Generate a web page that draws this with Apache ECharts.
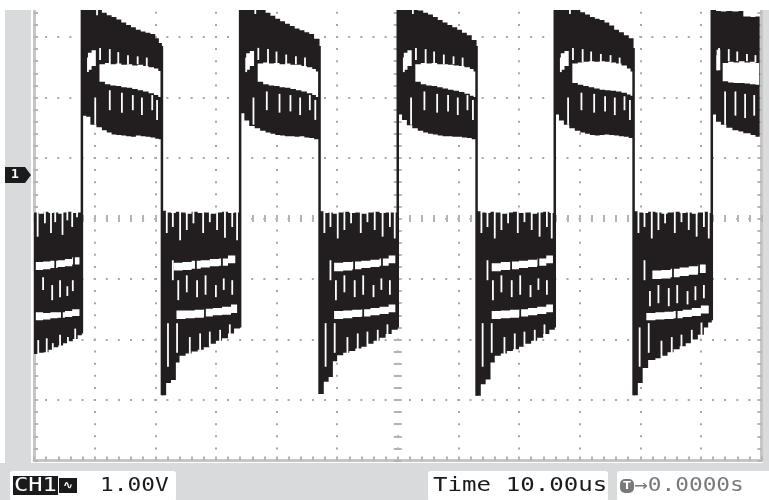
<!DOCTYPE html>
<html><head><meta charset="utf-8">
<script src="https://cdn.jsdelivr.net/npm/echarts@6/dist/echarts.min.js"></script>
<style>html,body{margin:0;padding:0;background:#fff}#c{width:769px;height:500px}</style>
</head><body><div id="c"></div>
<script>
// ---- status texts ----
const channelLabel = 'CH1';
const couplingIcon = '∿';
const voltsPerDiv = '1.00V';
const timeLabel = 'Time 10.00us';
const triggerIcon = 'T';
const triggerOffset = '→0.0000s';
const groundMarker = '1';

// ---- trace envelopes: [time us, top V, bottom V] (V relative to screen centre, 1 V/div) ----
const lowBlock0 = [[0.0,0.10,-2.24],[0.8,0.08,-2.22],[1.6,0.11,-2.21],[2.4,0.09,-2.17],[3.2,0.10,-2.13],[4.0,0.08,-2.10],[4.8,0.10,-2.06],[5.6,0.11,-2.03],[6.4,0.09,-1.99],[7.2,0.10,-1.93],[7.9,0.10,-1.88]];
const highBlock1 = [[7.9,3.6,1.70],[8.6,3.6,1.68],[9.3,3.6,1.55],[10.3,3.45,1.51],[11.2,3.40,1.46],[12.0,3.36,1.42],[12.8,3.33,1.39],[13.6,3.29,1.38],[14.4,3.24,1.37],[15.2,3.20,1.36],[16.0,3.16,1.35],[16.8,3.12,1.37],[17.6,3.09,1.36],[18.4,3.07,1.35],[19.2,3.05,1.34],[20.0,2.98,1.32],[20.6,2.90,1.31],[21.1,2.82,1.29]];
const lowBlock2 = [[21.1,0.13,-2.92],[21.8,0.10,-2.72],[22.6,0.09,-2.67],[23.4,0.11,-2.38],[24.0,0.10,-2.27],[25.0,0.08,-2.23],[26.0,0.11,-2.20],[27.0,0.09,-2.17],[28.0,0.10,-2.13],[29.0,0.08,-2.07],[30.0,0.10,-2.02],[31.0,0.11,-1.98],[32.0,0.09,-1.90],[33.0,0.10,-1.82],[34.0,0.10,-1.78]];
const highBlock3 = [[34.0,3.6,1.74],[34.7,3.6,1.62],[35.5,3.6,1.53],[36.4,3.55,1.49],[37.3,3.47,1.45],[38.2,3.40,1.42],[39.0,3.35,1.40],[39.8,3.30,1.38],[40.6,3.26,1.37],[41.4,3.22,1.36],[42.2,3.18,1.36],[43.0,3.14,1.35],[43.8,3.11,1.36],[44.6,3.08,1.34],[45.4,3.05,1.33],[46.2,2.97,1.31],[47.1,2.84,1.29]];
const lowBlock4 = [[47.1,0.12,-2.90],[47.8,0.09,-2.70],[48.6,0.10,-2.62],[49.3,0.08,-2.36],[50.0,0.10,-2.26],[51.0,0.11,-2.22],[52.0,0.09,-2.19],[53.0,0.10,-2.15],[54.0,0.08,-2.12],[55.0,0.10,-2.07],[56.0,0.11,-2.02],[57.0,0.09,-1.97],[58.0,0.10,-1.91],[59.0,0.10,-1.84],[60.0,0.09,-1.79]];
const highBlock5 = [[60.0,3.6,1.72],[60.7,3.6,1.63],[61.5,3.6,1.54],[62.4,3.5,1.49],[63.3,3.44,1.45],[64.2,3.40,1.42],[65.0,3.37,1.40],[65.8,3.33,1.39],[66.6,3.28,1.37],[67.4,3.24,1.36],[68.2,3.20,1.36],[69.0,3.16,1.35],[69.8,3.12,1.35],[70.6,3.07,1.34],[71.4,3.03,1.33],[72.2,2.95,1.31],[73.0,2.83,1.29]];
const lowBlock6 = [[73.0,0.12,-2.93],[73.7,0.10,-2.74],[74.5,0.09,-2.66],[75.3,0.11,-2.38],[76.0,0.10,-2.27],[77.0,0.08,-2.23],[78.0,0.10,-2.19],[79.0,0.11,-2.16],[80.0,0.09,-2.12],[81.0,0.10,-2.07],[82.0,0.08,-2.02],[83.0,0.10,-1.97],[84.0,0.11,-1.91],[85.0,0.09,-1.84],[85.9,0.10,-1.79]];
const highBlock7 = [[85.9,3.6,1.72],[86.6,3.6,1.62],[87.4,3.6,1.55],[88.3,3.52,1.49],[89.2,3.46,1.45],[90.1,3.41,1.42],[90.9,3.37,1.40],[91.7,3.33,1.38],[92.5,3.30,1.37],[93.3,3.28,1.38],[94.1,3.24,1.39],[94.9,3.19,1.38],[95.7,3.12,1.37],[96.5,3.08,1.36],[97.3,3.03,1.35],[98.1,2.98,1.33],[98.9,2.79,1.31]];
const lowBlock8 = [[98.9,0.12,-2.92],[99.6,0.10,-2.72],[100.4,0.09,-2.47],[101.3,0.11,-2.34],[102.5,0.10,-2.31],[103.5,0.08,-2.27],[104.5,0.10,-2.21],[105.5,0.11,-2.16],[106.5,0.09,-2.11],[107.5,0.10,-2.06],[108.5,0.08,-2.00],[109.5,0.10,-1.92],[110.5,0.11,-1.80],[111.2,0.09,-1.72],[111.8,0.10,-1.66]];
const highBlock9 = [[111.8,3.6,1.72],[112.5,3.43,1.60],[113.3,3.42,1.55],[114.2,3.43,1.50],[115.2,3.42,1.46],[116.2,3.43,1.44],[117.0,3.34,1.41],[118.2,3.33,1.38],[119.0,3.34,1.35],[119.7,3.33,1.34]];
const envelopes = [lowBlock0, highBlock1, lowBlock2, highBlock3, lowBlock4, highBlock5, lowBlock6, highBlock7, lowBlock8, highBlock9];

// ---- gaps (white bands) inside the persistence trace: [time us, top V, bottom V] ----
const gapLow0a = [[0.3,-0.72,-0.85],[1.5,-0.71,-0.84],[2.7,-0.70,-0.82],[3.9,-0.69,-0.80],[5.1,-0.67,-0.79],[6.3,-0.64,-0.76],[7.5,-0.60,-0.72]];
const gapLow0b = [[0.3,-1.55,-1.68],[1.5,-1.56,-1.67],[2.7,-1.55,-1.65],[3.9,-1.55,-1.64],[5.1,-1.53,-1.63],[6.3,-1.50,-1.61],[7.5,-1.44,-1.56]];
const gapHigh1a = [[8.9,2.74,2.46],[9.5,2.78,2.52],[10.2,2.72,2.50]];
const gapHigh1b = [[10.8,2.55,2.26],[11.7,2.57,2.22],[12.6,2.55,2.20],[13.5,2.56,2.19],[14.4,2.54,2.17],[15.3,2.55,2.16],[16.2,2.53,2.14],[17.1,2.54,2.12],[18.0,2.52,2.10],[18.9,2.50,2.07],[19.8,2.48,2.04],[20.5,2.44,2.01],[20.9,2.40,1.99]];
const gapLow2a = [[23.0,-0.73,-0.86],[24.5,-0.72,-0.85],[26.0,-0.70,-0.83],[27.5,-0.69,-0.81],[29.0,-0.67,-0.79],[30.5,-0.66,-0.78],[32.0,-0.61,-0.74],[33.2,-0.55,-0.67]];
const gapLow2b = [[23.5,-1.52,-1.66],[25.0,-1.52,-1.65],[26.5,-1.51,-1.64],[28.0,-1.49,-1.62],[29.5,-1.48,-1.60],[31.0,-1.46,-1.59],[32.5,-1.42,-1.56],[33.5,-1.39,-1.52]];
const gapHigh3a = [[35.0,2.73,2.46],[35.6,2.77,2.52],[36.3,2.71,2.50]];
const gapHigh3b = [[36.9,2.56,2.26],[37.8,2.58,2.22],[38.7,2.56,2.20],[39.6,2.57,2.19],[40.5,2.55,2.17],[41.4,2.56,2.16],[42.3,2.54,2.14],[43.2,2.54,2.12],[44.1,2.52,2.10],[45.0,2.50,2.07],[45.9,2.47,2.04],[46.5,2.43,2.01],[46.9,2.39,1.99]];
const gapLow4a = [[49.5,-0.73,-0.87],[51.0,-0.72,-0.86],[52.5,-0.71,-0.84],[54.0,-0.70,-0.82],[55.5,-0.68,-0.80],[57.0,-0.66,-0.78],[58.5,-0.61,-0.74],[59.6,-0.57,-0.69]];
const gapLow4b = [[49.5,-1.53,-1.66],[51.0,-1.52,-1.65],[52.5,-1.51,-1.63],[54.0,-1.50,-1.62],[55.5,-1.48,-1.60],[57.0,-1.46,-1.58],[58.5,-1.42,-1.55],[59.6,-1.38,-1.51]];
const gapHigh5a = [[61.0,2.74,2.46],[61.6,2.78,2.52],[62.3,2.72,2.50]];
const gapHigh5b = [[62.9,2.55,2.26],[63.8,2.57,2.22],[64.7,2.56,2.20],[65.6,2.57,2.19],[66.5,2.55,2.17],[67.4,2.55,2.15],[68.3,2.54,2.13],[69.2,2.53,2.11],[70.1,2.52,2.09],[71.0,2.50,2.06],[71.9,2.47,2.03],[72.5,2.43,2.01],[72.9,2.39,1.99]];
const gapLow6a = [[75.5,-0.74,-0.87],[77.0,-0.72,-0.85],[78.5,-0.71,-0.84],[80.0,-0.70,-0.82],[81.5,-0.68,-0.80],[83.0,-0.66,-0.78],[84.5,-0.61,-0.74],[85.6,-0.57,-0.69]];
const gapLow6b = [[75.5,-1.53,-1.66],[77.0,-1.52,-1.65],[78.5,-1.51,-1.64],[80.0,-1.50,-1.62],[81.5,-1.48,-1.60],[83.0,-1.46,-1.58],[84.5,-1.42,-1.55],[85.6,-1.38,-1.51]];
const gapHigh7a = [[86.9,2.73,2.46],[87.5,2.77,2.52],[88.2,2.71,2.50]];
const gapHigh7b = [[88.8,2.56,2.24],[89.7,2.58,2.21],[90.6,2.59,2.19],[91.5,2.60,2.17],[92.4,2.59,2.15],[93.3,2.60,2.13],[94.2,2.59,2.12],[95.1,2.58,2.11],[96.0,2.56,2.10],[96.9,2.53,2.08],[97.8,2.48,2.05],[98.4,2.43,2.03],[98.8,2.40,2.02]];
const gapLow8a = [[102.0,-0.86,-1.00],[103.5,-0.85,-0.99],[105.0,-0.83,-0.97],[106.5,-0.81,-0.95],[108.0,-0.79,-0.93],[109.5,-0.76,-0.90],[110.8,-0.72,-0.86]];
const gapLow8b = [[101.0,-1.56,-1.68],[102.5,-1.55,-1.67],[104.0,-1.54,-1.66],[105.5,-1.53,-1.65],[107.0,-1.51,-1.63],[108.5,-1.48,-1.61],[110.0,-1.44,-1.57],[111.3,-1.39,-1.52]];
const gapHigh9a = [[112.6,2.79,2.45],[113.2,2.75,2.50]];
const gapHigh9b = [[113.6,2.57,2.27],[114.5,2.59,2.25],[115.4,2.58,2.24],[116.3,2.60,2.24],[117.2,2.58,2.23],[118.1,2.59,2.22],[119.0,2.57,2.21],[119.6,2.56,2.21]];
const traceGaps = [gapLow0a, gapLow0b, gapHigh1a, gapHigh1b, gapLow2a, gapLow2b, gapHigh3a, gapHigh3b, gapLow4a, gapLow4b, gapHigh5a, gapHigh5b, gapLow6a, gapLow6b, gapHigh7a, gapHigh7b, gapLow8a, gapLow8b, gapHigh9a, gapHigh9b];

// ---- thin white streaks between overlapping sweeps: [time us, V1, V2] ----
const streaksLow0 = [[0.6,0.12,-0.30],[1.8,0.12,-0.08],[2.8,0.12,-0.24],[3.5,0.12,-0.06],[4.7,0.12,-0.27],[5.5,0.12,-0.03],[6.3,0.12,-0.14],[7.1,0.12,0.02],
  [1.5,-0.97,-1.18],[3.0,-1.10,-1.35],[4.3,-1.02,-1.30],[5.5,-1.12,-1.28],[6.4,-1.02,-1.20],
  [0.7,-2.30,-2.01],[2.1,-2.26,-1.98],[3.1,-2.22,-2.06],[4.3,-2.18,-1.92],[5.6,-2.14,-1.96],[6.8,-2.08,-1.82]];
const streaksHigh1 = [[8.9,2.66,2.42],[10.4,3.45,3.36],[10.9,2.82,2.62],[12.5,2.80,2.55],[13.9,2.75,2.55],[15.5,2.70,2.55],[17.1,2.68,2.55],[18.6,2.66,2.52],
  [10.1,2.00,1.55],[12.5,2.12,1.79],[14.5,2.08,1.75],[16.3,2.04,1.79],[17.8,2.00,1.71],[19.5,2.04,1.79],[20.3,1.96,1.63]];
const streaksLow2 = [[21.9,0.12,-0.24],[22.9,0.12,-0.14],[24.1,0.12,-0.36],[25.2,0.12,-0.19],[26.3,0.12,-0.08],[27.9,0.12,-0.24],[29.0,0.12,-0.06],[30.2,0.12,-0.19],[31.5,0.12,-0.32],[32.7,0.12,-0.14],[33.5,0.12,-0.36],
  [22.9,-0.69,-1.02],[23.8,-1.02,-1.35],[25.2,-0.94,-1.22],[26.9,-1.02,-1.30],[28.3,-0.94,-1.26],[30.0,-1.10,-1.30],[31.3,-0.99,-1.18],[32.7,-1.02,-1.26],
  [22.1,-1.73,-2.45],[23.6,-1.73,-2.22],
  [25.7,-2.26,-1.96],[27.4,-2.22,-1.90],[29.0,-2.12,-1.87],[30.7,-2.06,-1.84],[32.3,-1.95,-1.75]];
const streaksHigh3 = [[35.0,2.66,2.42],[36.5,3.45,3.38],[37.0,2.82,2.62],[38.6,2.80,2.55],[40.0,2.76,2.55],[41.6,2.71,2.55],[43.2,2.68,2.55],[44.7,2.66,2.52],
  [36.2,2.00,1.55],[38.4,2.10,1.79],[40.5,2.06,1.75],[42.3,2.04,1.77],[43.9,2.00,1.71],[45.5,2.04,1.79],[46.4,1.96,1.63]];
const streaksLow4 = [[47.9,0.12,-0.24],[48.9,0.12,-0.14],[50.1,0.12,-0.33],[51.2,0.12,-0.19],[52.3,0.12,-0.08],[53.9,0.12,-0.24],[55.0,0.12,-0.06],[56.2,0.12,-0.19],[57.5,0.12,-0.30],[58.7,0.12,-0.14],[59.5,0.12,-0.33],
  [48.9,-0.69,-1.02],[49.8,-1.02,-1.35],[51.2,-0.94,-1.22],[52.9,-1.02,-1.30],[54.3,-0.94,-1.26],[56.0,-1.10,-1.30],[57.3,-0.99,-1.18],[58.7,-1.02,-1.26],
  [48.1,-1.73,-2.45],[49.6,-1.73,-2.22],
  [51.7,-2.26,-1.96],[53.4,-2.20,-1.90],[55.0,-2.12,-1.87],[56.7,-2.06,-1.84],[58.3,-1.95,-1.75]];
const streaksHigh5 = [[61.0,2.66,2.42],[62.5,3.45,3.38],[63.0,2.82,2.62],[64.6,2.80,2.55],[66.0,2.76,2.55],[67.6,2.71,2.55],[69.2,2.68,2.55],[70.7,2.66,2.52],
  [62.2,2.00,1.55],[64.4,2.10,1.79],[66.5,2.06,1.75],[68.3,2.04,1.77],[69.9,2.00,1.71],[71.5,2.04,1.79],[72.4,1.96,1.63]];
const streaksLow6 = [[73.8,0.12,-0.24],[74.8,0.12,-0.14],[76.0,0.12,-0.33],[77.1,0.12,-0.19],[78.2,0.12,-0.08],[79.8,0.12,-0.24],[80.9,0.12,-0.06],[82.1,0.12,-0.19],[83.4,0.12,-0.30],[84.6,0.12,-0.14],[85.4,0.12,-0.33],
  [74.8,-0.69,-1.02],[75.7,-1.02,-1.35],[77.1,-0.94,-1.22],[78.8,-1.02,-1.30],[80.2,-0.94,-1.26],[81.9,-1.10,-1.30],[83.2,-0.99,-1.18],[84.6,-1.02,-1.26],
  [74.0,-1.73,-2.45],[75.5,-1.73,-2.22],
  [77.6,-2.26,-1.96],[79.3,-2.20,-1.90],[80.9,-2.12,-1.87],[82.6,-2.06,-1.84],[84.2,-1.95,-1.75]];
const streaksHigh7 = [[86.9,2.66,2.42],[88.4,3.45,3.38],[88.9,2.82,2.62],[90.5,2.80,2.58],[91.9,2.76,2.58],[93.5,2.72,2.58],[95.1,2.70,2.58],[96.6,2.66,2.54],
  [88.1,2.00,1.55],[90.3,2.08,1.79],[92.4,2.06,1.75],[94.2,2.02,1.77],[95.8,2.00,1.71],[97.4,2.02,1.79],[98.3,1.96,1.63]];
const streaksLow8 = [[99.7,0.12,-0.24],[100.7,0.12,-0.14],[101.9,0.12,-0.33],[103.0,0.12,-0.19],[104.1,0.12,-0.08],[105.7,0.12,-0.24],[106.8,0.12,-0.06],[108.0,0.12,-0.19],[109.3,0.12,-0.30],[110.5,0.12,-0.14],[111.3,0.12,-0.33],
  [100.7,-0.69,-1.02],[101.6,-1.20,-1.45],[103.0,-1.10,-1.40],[104.7,-1.15,-1.45],[106.1,-1.10,-1.40],[107.8,-1.20,-1.42],[109.1,-1.12,-1.35],[110.5,-1.10,-1.32],
  [99.9,-1.80,-2.45],[101.4,-1.73,-2.22],
  [103.5,-2.34,-2.02],[105.2,-2.26,-1.96],[106.8,-2.18,-1.92],[108.5,-2.08,-1.84],[110.1,-1.98,-1.72]];
const streaksHigh9 = [[112.7,2.70,2.45],[113.0,2.82,2.62],[114.6,2.80,2.60],[116.0,2.76,2.60],[117.6,2.72,2.60],[119.0,2.70,2.58],
  [114.0,2.10,1.55],[115.7,2.10,1.70],[117.3,2.06,1.66],[118.8,2.04,1.70]];
const whiteStreaks = [].concat(streaksLow0, streaksHigh1, streaksLow2, streaksHigh3, streaksLow4, streaksHigh5, streaksLow6, streaksHigh7, streaksLow8, streaksHigh9);

// ---- dark streaks crossing the gaps: [time us, V1, V2] ----
const darkStreaks = [
  [3.5,-0.58,-0.88],[6.6,-0.53,-0.80],[4.6,-1.48,-1.70],
  [26.7,-0.66,-0.88],[31.0,-0.62,-0.82],[28.2,-1.46,-1.68],
  [52.8,-0.66,-0.88],[57.4,-0.62,-0.82],[54.3,-1.46,-1.68],
  [78.7,-0.66,-0.88],[83.2,-0.62,-0.82],[80.2,-1.46,-1.68],
  [105.4,-0.80,-1.00],[109.7,-0.73,-0.93],[106.0,-1.48,-1.70]
];

// ---- switching edges: [time us, from V, to V] ----
const switchEdges = [[7.9,-1.9,3.6],[21.1,2.85,-2.92],[34.0,-1.8,3.6],[47.1,2.85,-2.90],[60.0,-1.8,3.6],[73.0,2.85,-2.93],[85.9,-1.8,3.6],[98.9,2.82,-2.92],[111.8,-1.68,3.6]];

const INK = '#221e1f';
const chart = echarts.init(document.getElementById('c'), null, {renderer: 'canvas', width: 769, height: 500});

function stepPoints(arr, col, api) {
  const out = [];
  for (let i = 0; i < arr.length; i++) {
    out.push(api.coord([arr[i][0], arr[i][col]]));
    if (i < arr.length - 1) out.push(api.coord([arr[i + 1][0], arr[i][col]]));
  }
  return out;
}
function polyFrom(list, fill) {
  return function (params, api) {
    const arr = list[api.value(2)];
    const top = stepPoints(arr, 1, api);
    const bot = stepPoints(arr, 2, api).reverse();
    return {type: 'polygon', shape: {points: top.concat(bot)}, style: {fill: fill}};
  };
}
function vLine(color, width) {
  return function (params, api) {
    const a = api.coord([api.value(0), api.value(1)]);
    const b = api.coord([api.value(0), api.value(2)]);
    return {type: 'line', shape: {x1: a[0], y1: a[1], x2: b[0], y2: b[1]}, style: {stroke: color, lineWidth: width}};
  };
}
const dotCol = '#a8a8a8';
const tickCol = '#b4b4b4';
const borderCol = '#c6c6c6';
const VTOP = 3.6116; // screen top edge in volts from centre

const option = {
  animation: false,
  backgroundColor: '#ffffff',
  grid: [
    {left: 34, right: 7.5, top: 0, bottom: 39.5, show: false},
    {left: 34, right: 7.5, top: 0, bottom: 39.5, show: false}
  ],
  xAxis: [
    {type: 'value', gridIndex: 0, min: 0, max: 120, interval: 10, position: 'bottom',
     axisLine: {show: true, onZero: false, lineStyle: {color: borderCol, width: 3}},
     axisTick: {show: true, inside: true, length: 4, lineStyle: {color: tickCol, width: 2}},
     minorTick: {show: true, splitNumber: 5, length: 4, lineStyle: {color: tickCol, width: 2}},
     axisLabel: {show: false},
     splitLine: {show: true, lineStyle: {color: dotCol, width: 2, type: [2, 10.1], dashOffset: 0.3}}},
    {type: 'value', gridIndex: 1, min: 0, max: 120, interval: 10, position: 'bottom', offset: -238.5,
     axisLine: {show: false, onZero: false},
     axisTick: {show: true, inside: true, length: 7, lineStyle: {color: tickCol, width: 2}},
     minorTick: {show: true, splitNumber: 5, length: 7, lineStyle: {color: tickCol, width: 2}},
     axisLabel: {show: false}, splitLine: {show: false}}
  ],
  yAxis: [
    {type: 'value', gridIndex: 0, min: -4, max: VTOP, interval: 1, position: 'left',
     axisLine: {show: true, onZero: false, lineStyle: {color: borderCol, width: 3}},
     axisTick: {show: true, inside: true, length: 4, lineStyle: {color: tickCol, width: 2}},
     minorTick: {show: true, splitNumber: 5, length: 4, lineStyle: {color: tickCol, width: 2}},
     axisLabel: {show: false},
     splitLine: {show: true, lineStyle: {color: dotCol, width: 2, type: [2, 10.125], dashOffset: 1}}},
    {type: 'value', gridIndex: 0, min: -4, max: VTOP, interval: 1, position: 'right',
     axisLine: {show: true, onZero: false, lineStyle: {color: borderCol, width: 3}},
     axisTick: {show: true, inside: true, length: 4, lineStyle: {color: tickCol, width: 2}},
     minorTick: {show: true, splitNumber: 5, length: 4, lineStyle: {color: tickCol, width: 2}},
     axisLabel: {show: false}, splitLine: {show: false}},
    {type: 'value', gridIndex: 1, min: -4, max: VTOP, interval: 1, position: 'left', offset: -359.75,
     axisLine: {show: false, onZero: false},
     axisTick: {show: true, inside: true, length: 8, lineStyle: {color: tickCol, width: 2}},
     minorTick: {show: true, splitNumber: 5, length: 8, lineStyle: {color: tickCol, width: 2}},
     axisLabel: {show: false}, splitLine: {show: false}}
  ],
  series: [
    {type: 'custom', xAxisIndex: 0, yAxisIndex: 0, z: 5,
     data: envelopes.map((e, i) => [e[0][0], e[0][1], i]), encode: {x: 0, y: 1},
     renderItem: polyFrom(envelopes, INK)},
    {type: 'custom', xAxisIndex: 0, yAxisIndex: 0, z: 6,
     data: traceGaps.map((e, i) => [e[0][0], e[0][1], i]), encode: {x: 0, y: 1},
     renderItem: polyFrom(traceGaps, '#ffffff')},
    {type: 'custom', xAxisIndex: 0, yAxisIndex: 0, z: 7,
     data: whiteStreaks, encode: {x: 0, y: 1}, renderItem: vLine('#ffffff', 1.8)},
    {type: 'custom', xAxisIndex: 0, yAxisIndex: 0, z: 8,
     data: darkStreaks, encode: {x: 0, y: 1}, renderItem: vLine(INK, 1.8)},
    {type: 'custom', xAxisIndex: 0, yAxisIndex: 0, z: 9,
     data: switchEdges, encode: {x: 0, y: 1}, renderItem: vLine(INK, 2.5)}
  ],
  graphic: [
    {type: 'rect', z: 100, shape: {x: 0, y: 0, width: 769, height: 10}, style: {fill: '#ffffff'}},
    {type: 'rect', z: 100, shape: {x: 5, y: 10, width: 26, height: 455}, style: {fill: '#d9dadc'}},
    {type: 'rect', z: 100, shape: {x: 763, y: 10, width: 6, height: 455}, style: {fill: '#d9dadc'}},
    {type: 'rect', z: 100, shape: {x: 0, y: 463, width: 769, height: 37}, style: {fill: '#d9dadc'}},
    {type: 'rect', z: 101, shape: {x: 10, y: 471, width: 166, height: 30, r: 3}, style: {fill: '#ffffff'}},
    {type: 'rect', z: 101, shape: {x: 428, y: 471, width: 180, height: 30, r: 3}, style: {fill: '#ffffff'}},
    {type: 'rect', z: 101, shape: {x: 617, y: 471, width: 160, height: 30, r: 3}, style: {fill: '#ffffff'}},
    {type: 'rect', z: 102, shape: {x: 13, y: 476, width: 45, height: 19}, style: {fill: '#1b1b1b'}},
    {type: 'rect', z: 102, shape: {x: 59, y: 478, width: 18, height: 15}, style: {fill: '#1b1b1b'}},
    {type: 'text', z: 103, x: 14, y: 486, scaleX: 1.25, style: {text: channelLabel, fill: '#ffffff', font: '19px "DejaVu Sans Mono"', verticalAlign: 'middle'}},
    {type: 'text', z: 103, x: 68, y: 486, style: {text: couplingIcon, fill: '#ffffff', font: 'bold 12px "DejaVu Sans"', align: 'center', verticalAlign: 'middle'}},
    {type: 'text', z: 103, x: 100, y: 486, scaleX: 1.2, style: {text: voltsPerDiv, fill: '#1b1b1b', font: '19px "DejaVu Sans Mono"', verticalAlign: 'middle'}},
    {type: 'text', z: 103, x: 433, y: 486, scaleX: 1.27, style: {text: timeLabel, fill: '#1b1b1b', font: '19px "DejaVu Sans Mono"', verticalAlign: 'middle'}},
    {type: 'rect', z: 102, shape: {x: 620, y: 479, width: 14, height: 14, r: 5}, style: {fill: '#7a7a7a'}},
    {type: 'text', z: 103, x: 627, y: 486, style: {text: triggerIcon, fill: '#ffffff', font: 'bold 11px "DejaVu Sans"', align: 'center', verticalAlign: 'middle'}},
    {type: 'text', z: 103, x: 634, y: 486, scaleX: 1.2, style: {text: triggerOffset, fill: '#7a7a7a', font: '19px "DejaVu Sans Mono"', verticalAlign: 'middle'}},
    {type: 'polygon', z: 102, shape: {points: [[5, 167], [25, 167], [31, 175], [25, 183], [5, 183]]}, style: {fill: '#1b1b1b'}},
    {type: 'text', z: 103, x: 15, y: 175, style: {text: groundMarker, fill: '#ffffff', font: 'bold 13px "DejaVu Sans Mono"', align: 'center', verticalAlign: 'middle'}}
  ]
};
chart.setOption(option);
</script></body></html>
